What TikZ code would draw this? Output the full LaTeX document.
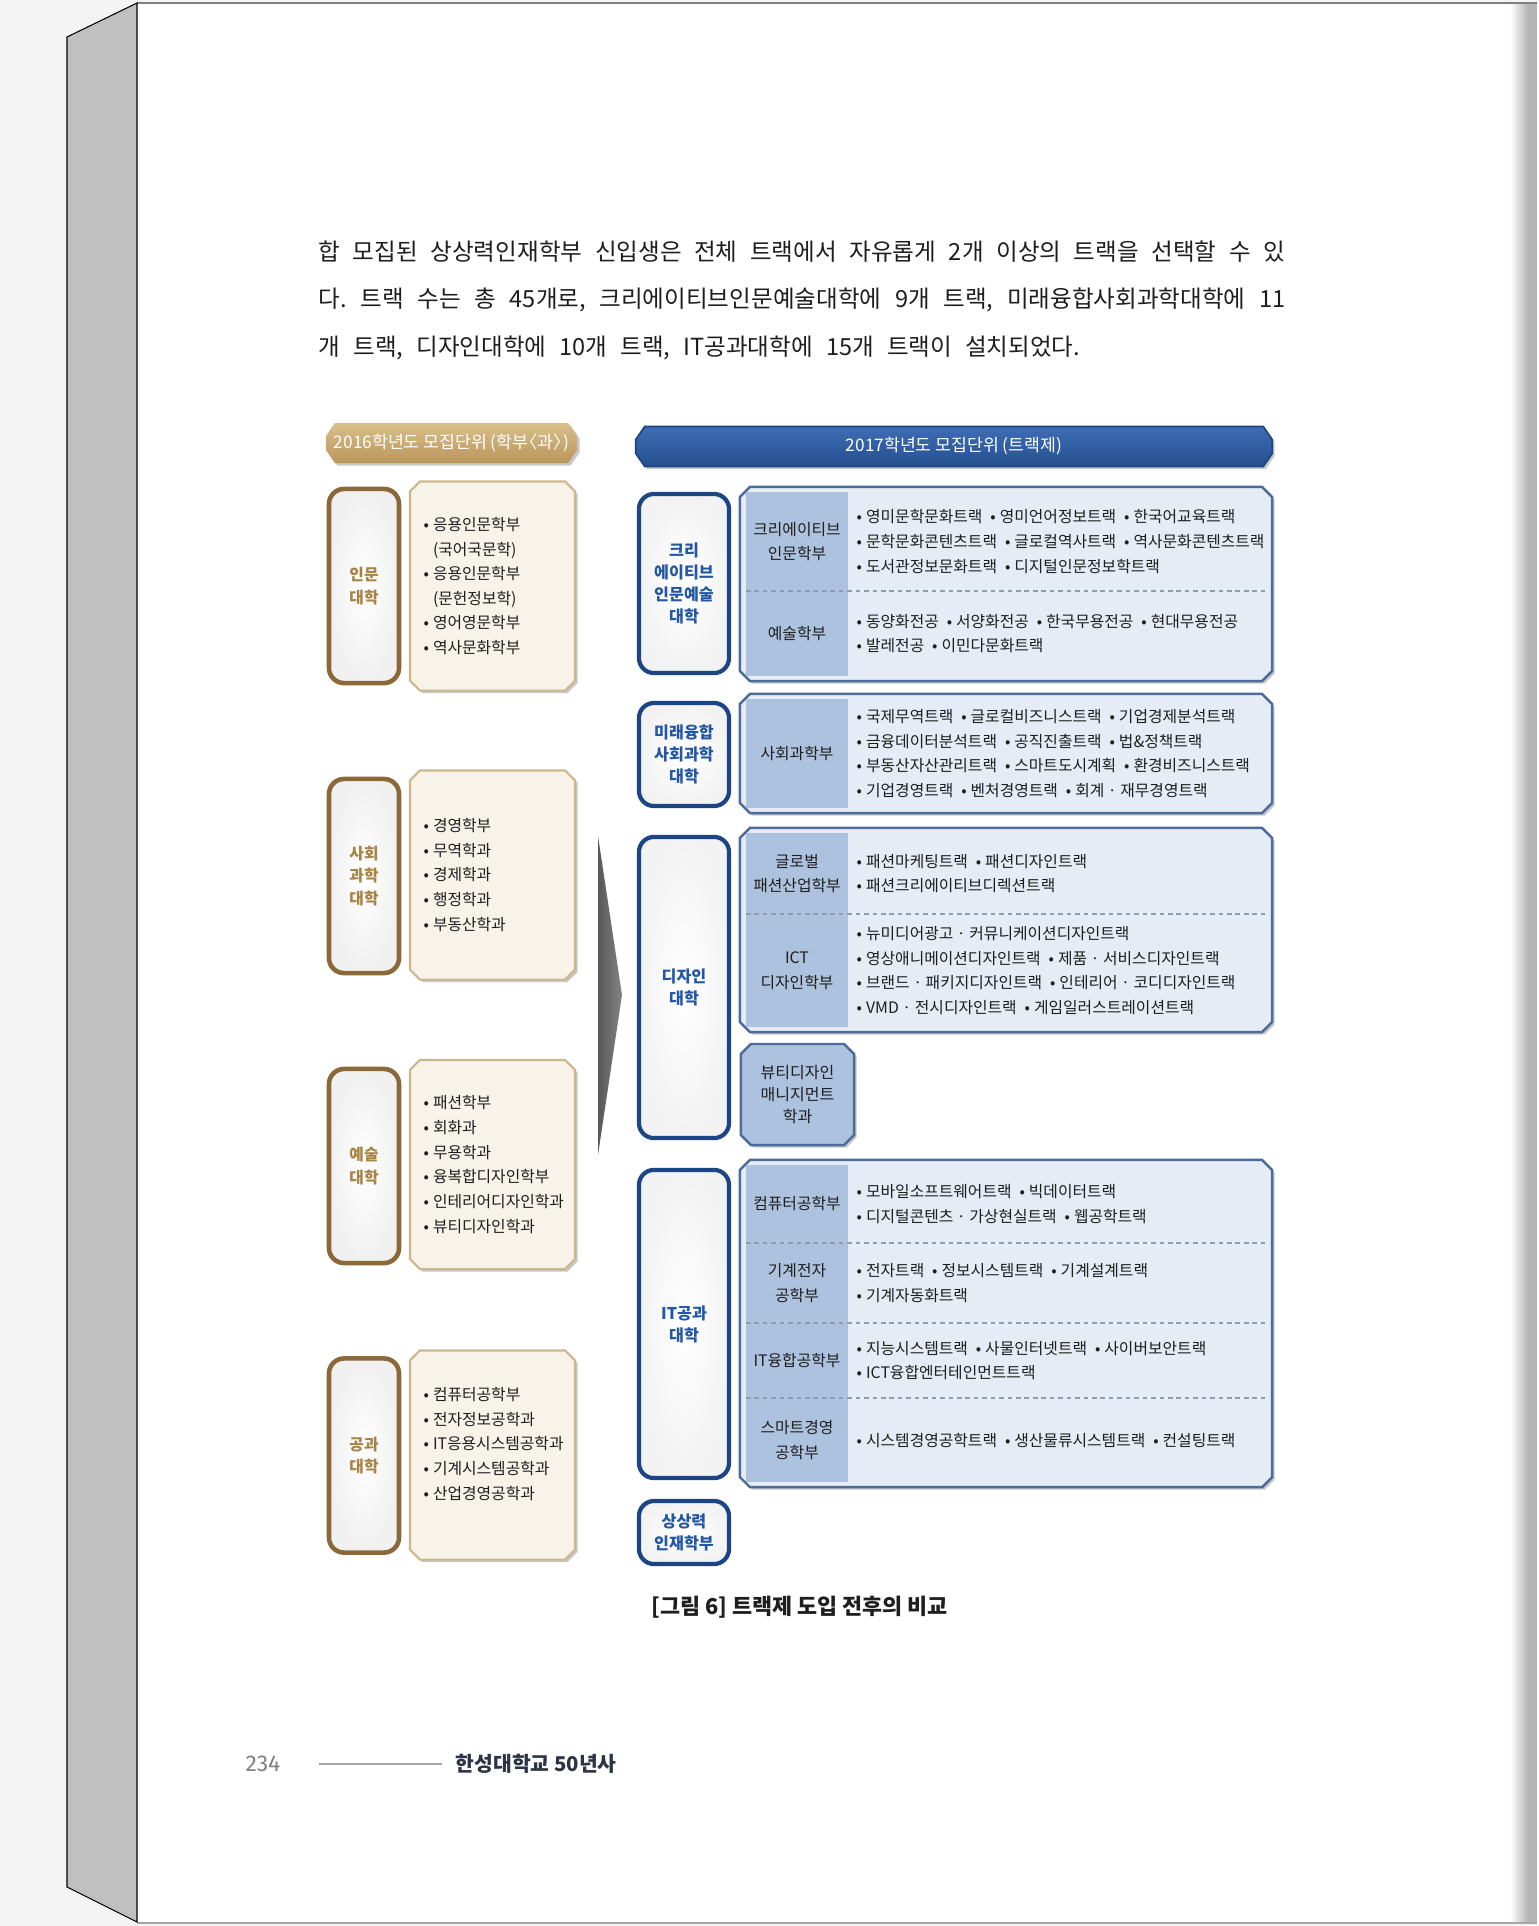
\documentclass[tikz,border=0pt]{standalone}
\usepackage{fontspec}
\setmainfont{Noto Sans CJK KR}
\newfontfamily\numfont{Fira Sans}
\usetikzlibrary{positioning}
\frenchspacing

\definecolor{bggrey}{HTML}{F4F4F4}
\definecolor{spinegrey}{HTML}{C0C0C0}
\definecolor{edgegrey}{HTML}{B4B4B4}
\definecolor{goldtop}{HTML}{D9BF8A}
\definecolor{goldbot}{HTML}{BA965C}
\definecolor{brownline}{HTML}{8B6837}
\definecolor{goldtext}{HTML}{A68243}
\definecolor{cream}{HTML}{F8F3E9}
\definecolor{creamline}{HTML}{CDB78E}
\definecolor{bluetop}{HTML}{3F6CB4}
\definecolor{bluebot}{HTML}{24508F}
\definecolor{navyline}{HTML}{1C4683}
\definecolor{bluetext}{HTML}{2457A3}
\definecolor{trackfill}{HTML}{E5ECF6}
\definecolor{trackline}{HTML}{4C6B98}
\definecolor{deptfill}{HTML}{ADC2DE}
\definecolor{dashgrey}{HTML}{8F9BAE}
\definecolor{arrowgrey}{HTML}{6E6E6E}
\definecolor{inkgrey}{HTML}{1E1E1E}
\definecolor{footnavy}{HTML}{2B3345}

\pgfdeclarelayer{paper}
\pgfdeclarelayer{boxes}
\pgfsetlayers{paper,boxes,main}

\newcommand{\sz}[2]{\fontsize{#1}{#2}\selectfont}
\newcommand{\bu}{\textbullet\hspace{0.25em}}
\newcommand{\nx}{\enspace\bu}
\newcommand{\cutbox}[4][]{\path[#1] ([xshift=#3]#2.north west) -- ([xshift=-#3]#2.north east) -- ([yshift=-#4]#2.north east) -- ([yshift=#4]#2.south east) -- ([xshift=-#3]#2.south east) -- ([xshift=#3]#2.south west) -- ([yshift=#4]#2.south west) -- ([yshift=-#4]#2.north west) -- cycle;}

\begin{document}
\begin{tikzpicture}
	[x=0.01cm,y=-0.01cm,
	head/.style={inner sep=0pt,outer sep=0pt,minimum height=0.4cm,text=white,font=\sz{4.9}{5}},
	oldcol/.style={draw=brownline,line width=1.3pt,rounded corners=0.15cm,inner color=white,outer color=gray!12,minimum width=0.7cm,minimum height=1.94cm,text=goldtext,font=\bfseries\sz{4.5}{6.5},align=center},
	oldbox/.style={inner sep=0pt,outer sep=0pt,minimum width=1.65cm,minimum height=2.09cm},
	oldtxt/.style={inner sep=0pt,align=left,font=\sz{4.5}{7},text=inkgrey},
	newcol/.style={draw=navyline,line width=1.2pt,rounded corners=0.15cm,inner color=white,outer color=gray!10,minimum width=0.9cm,text=bluetext,font=\bfseries\sz{4.6}{6.3},align=center},
	group/.style={inner sep=0pt,outer sep=0pt,minimum width=5.32cm},
	dept/.style={fill=deptfill,inner sep=0pt,outer sep=0pt,minimum width=1.02cm,align=center,font=\sz{4.5}{7},text=inkgrey},
	track/.style={inner sep=0pt,align=left,font=\sz{4.5}{7},text=inkgrey},
	divider/.style={draw=dashgrey,dash pattern=on 1.3pt off 1.1pt,line width=0.45pt},
	shade box/.style={fill=black,opacity=0.22,transform canvas={xshift=0.025cm,yshift=-0.025cm}},
	para/.style={anchor=west,inner sep=0pt,font=\sz{6.7}{8},text=inkgrey}]
	
	\begin{pgfonlayer}{paper}
		\fill[bggrey] (0,0) rectangle (1537,1926);
		\fill[white] (137,3) rectangle (1510,1923);
		\shade[left color=white,right color=edgegrey] (1510,3) rectangle (1528,1923);
		\fill[edgegrey] (1528,3) rectangle (1537,1923);
		\draw[gray,line width=0.6pt] (137,3) -- (1537,3);
		\draw[gray!70,line width=0.4pt] (137,1923) -- (1537,1923);
		\filldraw[fill=spinegrey,draw=black,line width=0.3pt] (67,37) -- (137,3) -- (137,1922) -- (67,1887) -- cycle;
	\end{pgfonlayer}
	
	\node[para] (p1) at (318,252) {\makebox[9.66cm][s]{합 모집된 상상력인재학부 신입생은 전체 트랙에서 자유롭게 2개 이상의 트랙을 선택할 수 있}};
	\node[para] (p2) at (318,300) {\makebox[9.66cm][s]{다. 트랙 수는 총 45개로, 크리에이티브인문예술대학에 9개 트랙, 미래융합사회과학대학에 11}};
	\node[para] (p3) at (318,348) {\makebox[7.61cm][s]{개 트랙, 디자인대학에 10개 트랙, IT공과대학에 15개 트랙이 설치되었다.}};
	
	\node[head,minimum width=2.51cm] (h16) at (451.5,443) {2016학년도 모집단위 (학부\hspace{-0.45em}〈과〉\hspace{-0.45em})};
	\node[head,minimum width=6.36cm] (h17) at (954,446.5) {2017학년도 모집단위 (트랙제)};
	
	\node[oldcol] (c1) at (364,586) [] {인문\\대학};
	\node[oldcol] (c2) at (364,876) [] {사회\\과학\\대학};
	\node[oldcol] (c3) at (364,1166) [] {예술\\대학};
	\node[oldcol] (c4) at (364,1455.5) [] {공과\\대학};
	
	\node[oldbox] (d1) at (492.5,586) {};
	\node[oldbox] (d2) at (492.5,875) {};
	\node[oldbox] (d3) at (492.5,1164.5) {};
	\node[oldbox] (d4) at (492.5,1455) {};
	
	\node[oldtxt,right=0.13cm of d1.west] (o1) {\bu 응용인문학부\\\hphantom{\bu}(국어국문학)\\\bu 응용인문학부\\\hphantom{\bu}(문헌정보학)\\\bu 영어영문학부\\\bu 역사문화학부};
	\node[oldtxt,right=0.13cm of d2.west] (o2) {\bu 경영학부\\\bu 무역학과\\\bu 경제학과\\\bu 행정학과\\\bu 부동산학과};
	\node[oldtxt,right=0.13cm of d3.west] (o3) {\bu 패션학부\\\bu 회화과\\\bu 무용학과\\\bu 융복합디자인학부\\\bu 인테리어디자인학과\\\bu 뷰티디자인학과};
	\node[oldtxt,right=0.13cm of d4.west,yshift=0.11cm] (o4) {\bu 컴퓨터공학부\\\bu 전자정보공학과\\\bu IT응용시스템공학과\\\bu 기계시스템공학과\\\bu 산업경영공학과};
	
	\shade[left color=arrowgrey!80!black,right color=arrowgrey!85] (598,836) -- (622,995) -- (598,1155) -- cycle;
	
	\node[newcol,minimum height=1.79cm] (n1) at (684,583.5) [] {크리\\에이티브\\인문예술\\대학};
	\node[newcol,minimum height=1.03cm] (n2) at (684,754.5) [] {미래융합\\사회과학\\대학};
	\node[newcol,minimum height=3.01cm] (n3) at (684,987.5) [] {디자인\\대학};
	\node[newcol,minimum height=3.08cm] (n4) at (684,1324) [] {IT공과\\대학};
	\node[newcol,minimum height=0.63cm] (n5) at (684,1532.5) [] {상상력\\인재학부};
	
	\node[group,minimum height=1.94cm] (g1) at (1006,584) {};
	\node[group,minimum height=1.19cm] (g2) at (1006,753.5) {};
	\node[group,minimum height=2.04cm] (g3) at (1006,930) {};
	\node[group,minimum height=3.27cm] (g4) at (1006,1323.5) {};
	
	\node[dept,minimum height=0.99cm] (s11) at (797,541.5) {크리에이티브\\인문학부};
	\node[dept,minimum height=0.85cm,below=0cm of s11] (s12) {예술학부};
	\node[dept,minimum height=1.09cm] (s21) at (797,753.5) {사회과학부};
	\node[dept,minimum height=0.81cm] (s31) at (797,873.5) {글로벌\\패션산업학부};
	\node[dept,minimum height=1.13cm,below=0cm of s31] (s32) {ICT\\디자인학부};
	\node[dept,minimum height=0.78cm] (s41) at (797,1204) {컴퓨터공학부};
	\node[dept,minimum height=0.80cm,below=0cm of s41] (s42) {기계전자\\공학부};
	\node[dept,minimum height=0.75cm,below=0cm of s42] (s43) {IT융합공학부};
	\node[dept,minimum height=0.84cm,below=0cm of s43] (s44) {스마트경영\\공학부};
	
	\draw[divider] (s11.south west) -- ++(520,0);
	\draw[divider] (s31.south west) -- ++(520,0);
	\draw[divider] (s41.south west) -- ++(520,0);
	\draw[divider] (s42.south west) -- ++(520,0);
	\draw[divider] (s43.south west) -- ++(520,0);
	
	\node[track,right=0.08cm of s11] (t11) {\bu 영미문학문화트랙\nx 영미언어정보트랙\nx 한국어교육트랙\\\bu 문학문화콘텐츠트랙\nx 글로컬역사트랙\nx 역사문화콘텐츠트랙\\\bu 도서관정보문화트랙\nx 디지털인문정보학트랙};
	\node[track,right=0.08cm of s12] (t12) {\bu 동양화전공\nx 서양화전공\nx 한국무용전공\nx 현대무용전공\\\bu 발레전공\nx 이민다문화트랙};
	\node[track,right=0.08cm of s21] (t21) {\bu 국제무역트랙\nx 글로컬비즈니스트랙\nx 기업경제분석트랙\\\bu 금융데이터분석트랙\nx 공직진출트랙\nx 법\&정책트랙\\\bu 부동산자산관리트랙\nx 스마트도시계획\nx 환경비즈니스트랙\\\bu 기업경영트랙\nx 벤처경영트랙\nx 회계 · 재무경영트랙};
	\node[track,right=0.08cm of s31] (t31) {\bu 패션마케팅트랙\nx 패션디자인트랙\\\bu 패션크리에이티브디렉션트랙};
	\node[track,right=0.08cm of s32] (t32) {\bu 뉴미디어광고 · 커뮤니케이션디자인트랙\\\bu 영상애니메이션디자인트랙\nx 제품 · 서비스디자인트랙\\\bu 브랜드 · 패키지디자인트랙\nx 인테리어 · 코디디자인트랙\\\bu VMD · 전시디자인트랙\nx 게임일러스트레이션트랙};
	\node[track,right=0.08cm of s41] (t41) {\bu 모바일소프트웨어트랙\nx 빅데이터트랙\\\bu 디지털콘텐츠 · 가상현실트랙\nx 웹공학트랙};
	\node[track,right=0.08cm of s42] (t42) {\bu 전자트랙\nx 정보시스템트랙\nx 기계설계트랙\\\bu 기계자동화트랙};
	\node[track,right=0.08cm of s43] (t43) {\bu 지능시스템트랙\nx 사물인터넷트랙\nx 사이버보안트랙\\\bu ICT융합엔터테인먼트트랙};
	\node[track,right=0.08cm of s44] (t44) {\bu 시스템경영공학트랙\nx 생산물류시스템트랙\nx 컨설팅트랙};
	
	\node[inner sep=0pt,outer sep=0pt,minimum width=1.13cm,minimum height=1.01cm,align=center,font=\sz{4.55}{6.3},text=inkgrey] (b) at (797.5,1094.5) {뷰티디자인\\매니지먼트\\학과};
	
	\begin{pgfonlayer}{boxes}
		\cutbox[shade box]{h16}{0.09cm}{0.13cm}
		\cutbox[top color=goldtop,bottom color=goldbot]{h16}{0.09cm}{0.13cm}
		\cutbox[shade box]{h17}{0.09cm}{0.13cm}
		\cutbox[top color=bluetop,bottom color=bluebot,draw=navyline,line width=0.5pt]{h17}{0.09cm}{0.13cm}
		\foreach \d in {d1,d2,d3,d4}{
			\cutbox[shade box]{\d}{0.1cm}{0.1cm}
			\cutbox[fill=cream,draw=creamline,line width=0.6pt]{\d}{0.1cm}{0.1cm}
		}
		\foreach \g in {g1,g2,g3,g4}{
			\cutbox[shade box]{\g}{0.1cm}{0.1cm}
			\cutbox[fill=trackfill,draw=trackline,line width=0.7pt]{\g}{0.1cm}{0.1cm}
		}
		\cutbox[shade box]{b}{0.1cm}{0.1cm}
		\cutbox[fill=deptfill,draw=trackline,line width=0.7pt]{b}{0.1cm}{0.1cm}
	\end{pgfonlayer}
	
	\node[font=\bfseries\sz{6.2}{7},text=inkgrey] (cap) at (799.5,1607) {[그림 6] 트랙제 도입 전후의 비교};
	
	\node[font=\numfont\sz{6.5}{7},text=gray] (pg) at (263,1764) {234};
	\draw[gray!70,line width=0.4pt] (319,1764) -- (442,1764);
	\node[anchor=west,inner sep=0pt,font=\bfseries\sz{5.8}{6},text=footnavy] (bk) at (455,1764) {한성대학교 50년사};
	
\end{tikzpicture}
\end{document}
